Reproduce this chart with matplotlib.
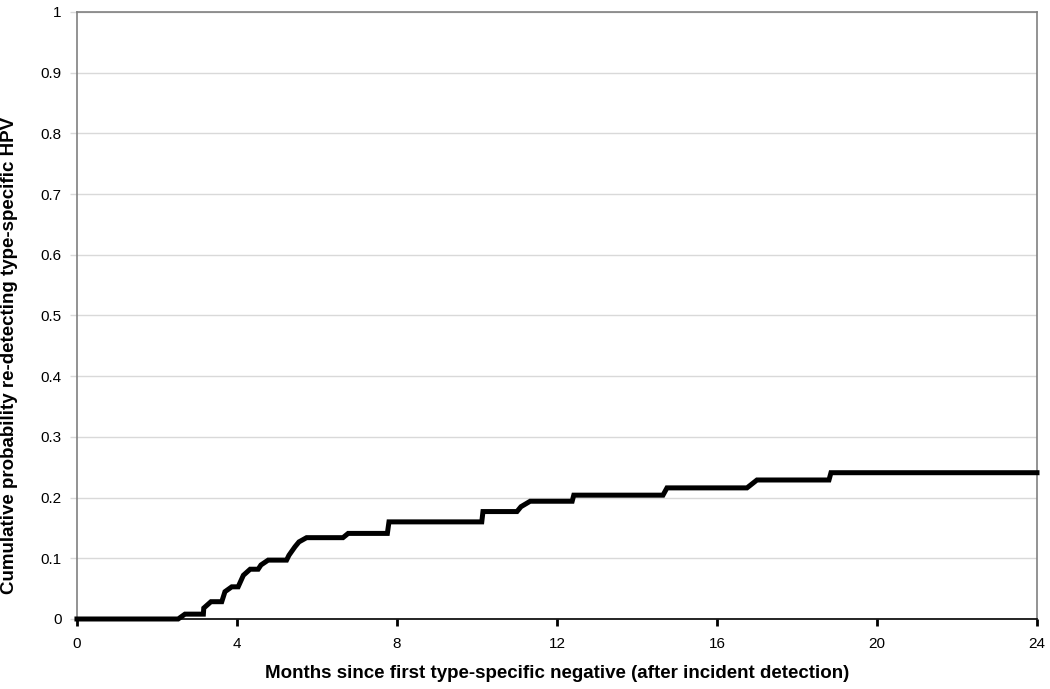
import numpy as np
import matplotlib
matplotlib.use("Agg")
import matplotlib.pyplot as plt

plt.rcParams['font.family'] = ['Liberation Sans', 'DejaVu Sans']

# step curve (months, cumulative probability)
months = [0, 2.53, 2.7, 3.16, 3.17, 3.35, 3.62, 3.7, 3.87, 4.03, 4.16, 4.33,
          4.53, 4.6, 4.78, 5.24, 5.3, 5.45, 5.55, 5.74, 6.65, 6.78, 7.76,
          7.8, 10.12, 10.15, 11.0, 11.1, 11.33, 12.38, 12.42, 14.65, 14.75,
          16.75, 17.0, 18.8, 18.85, 24]
prob = [0, 0, 0.008, 0.008, 0.018, 0.0285, 0.0285, 0.045, 0.053, 0.053, 0.072, 0.082,
        0.082, 0.089, 0.097, 0.097, 0.105, 0.119, 0.127, 0.134, 0.134, 0.141, 0.141,
        0.16, 0.16, 0.177, 0.177, 0.185, 0.194, 0.194, 0.204, 0.204, 0.216,
        0.216, 0.229, 0.229, 0.241, 0.241]

x_ticks = [0, 4, 8, 12, 16, 20, 24]
y_ticks = np.round(np.arange(0, 1.01, 0.1), 1)
y_labels = ['0'] + ['%.1f' % v for v in y_ticks[1:-1]] + ['1']

fig = plt.figure(figsize=(10.5, 6.89), dpi=100)
ax = fig.add_axes([0.0733, 0.1016, 0.9143, 0.881])

ax.plot(months, prob, color='black', linewidth=3.6, solid_joinstyle='miter',
        zorder=3, clip_on=False)

ax.set_xlim(0, 24)
ax.set_ylim(0, 1)
ax.set_xticks(x_ticks)
ax.set_yticks(y_ticks)
ax.set_yticklabels(y_labels)
ax.grid(True, axis='y', color='#d9d9d9', linewidth=1, zorder=0)
ax.set_axisbelow(True)

for s in ax.spines.values():
    s.set_color('#808080')
    s.set_linewidth(1.2)
ax.spines['bottom'].set_color('black')

ax.tick_params(axis='x', direction='out', length=5, width=2, color='black',
               labelsize=11, pad=8)
ax.tick_params(axis='y', direction='out', length=5, width=1, color='#d9d9d9',
               labelsize=11, pad=6)

ax.set_xlabel('Months since first type-specific negative (after incident detection)',
              fontsize=13.5, fontweight='bold', labelpad=10)
ax.set_ylabel('Cumulative probability re-detecting type-specific HPV',
              fontsize=13.5, fontweight='bold')
ax.yaxis.set_label_coords(-0.0615, 0.435)

fig.savefig('out.png', dpi=100)
